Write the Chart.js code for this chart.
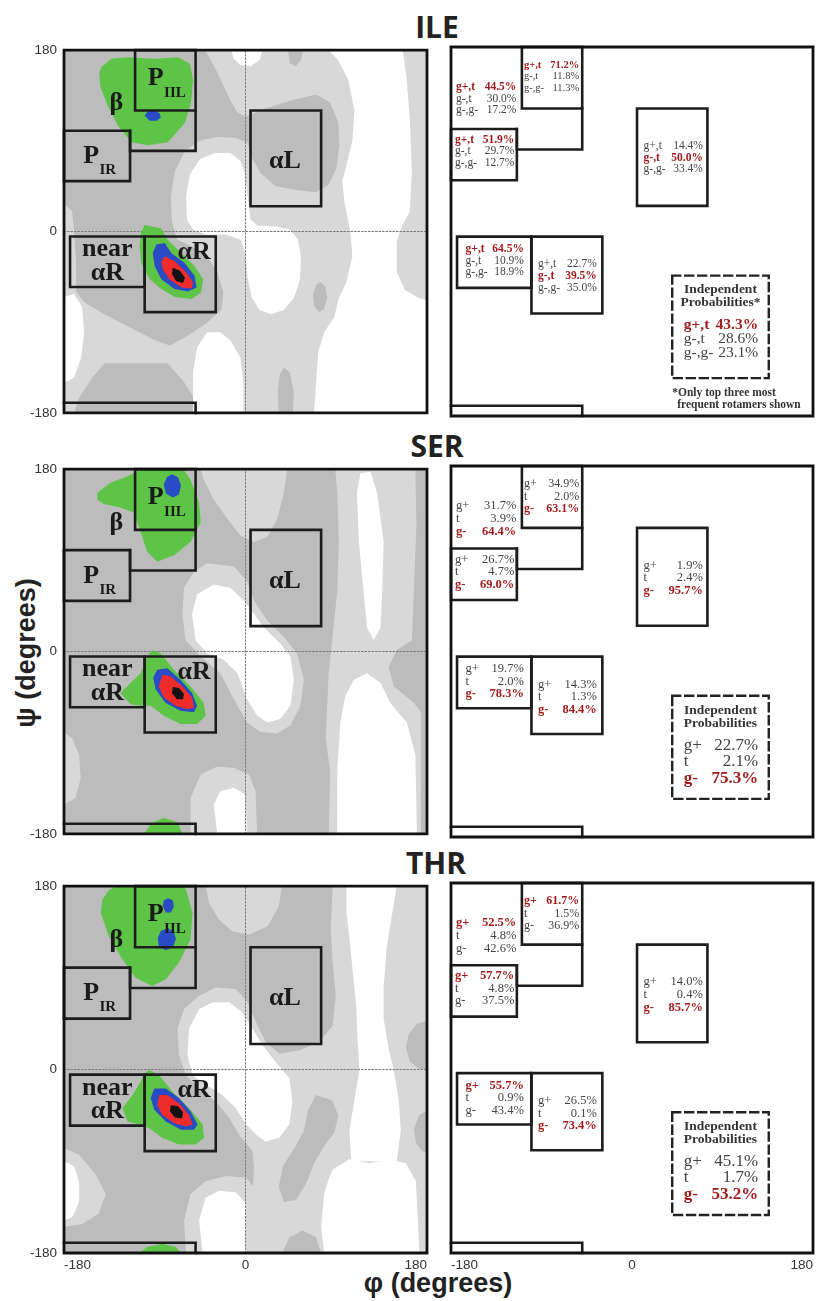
<!DOCTYPE html>
<html>
<head>
<meta charset="utf-8">
<script src="https://cdn.jsdelivr.net/npm/chart.js@4.4.1/dist/chart.umd.min.js"></script>
<style>
  html, body { margin: 0; padding: 0; background: #fff; }
  body { width: 817px; height: 1301px; position: relative; overflow: hidden; }
  .title { position: absolute; transform: translate(-50%, -50%); font-family: "Open Sans", sans-serif; font-weight: 700; font-size: 30px; color: #222; white-space: nowrap; }
  .axis-title { position: absolute; font-family: "Liberation Sans", Arial, sans-serif; font-weight: 700; font-size: 27px; color: #222; white-space: nowrap; }
  canvas { position: absolute; }
</style>
</head>
<body>
<div class="title" style="left:437px;top:26px">ILE</div>
<div class="title" style="left:437px;top:445px">SER</div>
<div class="title" style="left:436px;top:862px">THR</div>
<div class="axis-title" style="left:26px;top:653px;transform:translate(-50%,-50%) rotate(-90deg)">ψ (degrees)</div>
<div class="axis-title" style="left:438px;top:1283px;transform:translate(-50%,-50%)">φ (degrees)</div>

<canvas id="ileMap"></canvas>
<canvas id="ileRot"></canvas>
<canvas id="serMap"></canvas>
<canvas id="serRot"></canvas>
<canvas id="thrMap"></canvas>
<canvas id="thrRot"></canvas>

<script>
// ---------- axes ----------
const PHI_TICKS = [-180, 0, 180];
const PSI_TICKS = [-180, 0, 180];

// ---------- region boxes (phi, psi in degrees) ----------
const FULL_AREA     = [[-180,-180],[180,-180],[180,180],[-180,180],[-180,-180]];
const BOX_PIIL      = [[-109.5,180],[-49.5,180],[-49.5,120],[-109.5,120],[-109.5,180]];
const BOX_BETA      = [[-49.5,120],[-49.5,80],[-114.5,80],[-114.5,100]];
const BOX_PIR       = [[-180,100],[-114.5,100],[-114.5,50],[-180,50],[-180,100]];
const BOX_ALPHA_L   = [[5,120],[75,120],[75,25],[5,25],[5,120]];
const BOX_NEAR_AR   = [[-174,-5],[-100,-5],[-100,-55],[-174,-55],[-174,-5]];
const BOX_ALPHA_R   = [[-100,-5],[-29.5,-5],[-29.5,-80],[-100,-80],[-100,-5]];
const BOX_BETA_WRAP = [[-180,-170],[-49.5,-170],[-49.5,-180]];
const BOX_INDEP     = [[40,-43],[136,-43],[136,-143],[40,-143],[40,-43]];

// ---------- ILE density contours ----------
const ILE_MID_MAIN = [[-180,180],[-40,180],[-28,158],[-16,132],[-8,118],[0,114],[20,122],[45,130],[70,136],[84,128],[92,108],[93,85],[90,62],[82,46],[70,39],[52,41],[30,45],[15,58],[7,72],[2,88],[-10,93],[-28,94],[-46,90],[-60,80],[-70,60],[-74,35],[-73,10],[-68,-8],[-55,-14],[-40,-22],[-28,-40],[-22,-60],[-24,-78],[-40,-92],[-60,-105],[-75,-113],[-90,-108],[-115,-95],[-140,-82],[-160,-70],[-168,-60],[-168,-30],[-170,0],[-172,20],[-180,28]];
const ILE_MID_TOP = [[42,180],[57,180],[55,170],[50,164],[44,167]];
const ILE_MID_BOTTOM = [[-140,-131],[-77,-131],[-62,-148],[-48,-170],[-46,-180],[-170,-180],[-165,-165],[-152,-145]];
const ILE_MID_ELL1 = [[74,-50],[79,-54],[81,-65],[78,-77],[73,-80],[68,-74],[67,-62],[70,-53]];
const ILE_MID_ELL2 = [[38,-135],[44,-140],[48,-160],[47,-180],[33,-180],[32,-160],[34,-142]];
const ILE_WHITE_HOLE = [[-30,78],[-45,72],[-55,57],[-59,35],[-58,12],[-52,2],[-40,-3],[-20,-3],[-5,-8],[0,-22],[2,-45],[6,-65],[14,-78],[25,-82],[38,-78],[48,-66],[54,-48],[55,-25],[52,-8],[44,2],[30,5],[12,6],[5,12],[2,35],[0,55],[-5,70],[-15,78]];
const ILE_WHITE_TOP = [[-14,180],[17,180],[14,170],[5,164],[-5,165],[-12,172]];
const ILE_WHITE_RIGHT = [[82,180],[156,180],[160,150],[163,110],[165,60],[163,20],[155,5],[150,-10],[150,-40],[158,-58],[172,-66],[180,-68],[180,-180],[68,-180],[70,-150],[72,-120],[78,-100],[88,-85],[92,-68],[100,-50],[106,-25],[104,0],[98,30],[96,50],[100,65],[106,90],[108,120],[102,150],[92,170]];
const ILE_WHITE_BOTTOM = [[-38,-100],[-48,-115],[-52,-140],[-52,-180],[-2,-180],[-2,-150],[-5,-125],[-15,-108],[-25,-100]];
const ILE_WHITE_LEFT = [[-180,-65],[-170,-62],[-162,-75],[-160,-100],[-163,-125],[-170,-145],[-180,-150]];
const ILE_GREEN_BETA = [[-143,163],[-133,171.5],[-117,173],[-90,171.5],[-67,173],[-55,166.5],[-52,150],[-54,127.5],[-60,108],[-77,88.5],[-97,85.5],[-113,88.5],[-126.5,105],[-136.5,124.5],[-144,144],[-145,157]];
const ILE_BLUE_BETA = [[-100,115],[-97,119],[-90,120],[-85,117],[-84,113],[-88,110],[-95,110]];
const ILE_GREEN_AR = [[-100,6.5],[-83.5,3],[-77,-8.5],[-63.5,-21.5],[-50.5,-34.5],[-42,-47.5],[-44,-60.5],[-53.5,-67],[-70,-65],[-83.5,-57],[-95,-47.5],[-103.5,-31],[-105,-15],[-104,-2]];
const ILE_BLUE_AR = [[-88.5,-13],[-80,-11.5],[-73.5,-21.5],[-60.5,-31],[-50.5,-44],[-48.5,-55.5],[-57,-59.5],[-70.5,-57],[-83.5,-47.5],[-90,-34.5],[-92,-21.5]];
const ILE_RED_AR = [[-80,-24.5],[-70,-29.5],[-58.5,-41],[-52,-50.5],[-53.5,-56.5],[-63.5,-55.5],[-75.5,-47.5],[-82,-37.5],[-83.5,-29.5]];
const ILE_BLACK_AR = [[-72,-36],[-65,-39],[-60,-46],[-62,-51],[-69,-49],[-73,-42]];

// ---------- SER density contours ----------
const SER_LIGHT_RING = [[-38,87],[-11.5,84],[1.5,69.5],[8.5,50],[21.5,30.5],[38,14.5],[51,-2],[58,-28],[54.5,-53.5],[44.5,-73],[31.5,-81],[15,-79.5],[1.5,-70],[-11.5,-47],[-25,-21.5],[-44.5,-5],[-59.5,11],[-62.5,37],[-61,63],[-51,79]];
const SER_LIGHT_TOP = [[-44.5,180],[41.5,180],[38,156.5],[31.5,131],[21.5,113],[8.5,108],[-5,114.5],[-18,131],[-31.5,150],[-41.5,169.5]];
const SER_LIGHT_RIGHT = [[89,180],[168.5,180],[169.5,124],[167,59.5],[165,11],[150,1.5],[142,-15],[147,-34.5],[167,-50.5],[174,-60],[174,-180],[82.5,-180],[84,-118.5],[79.5,-86],[81,-53.5],[82.5,-21.5],[86,11],[91,59.5],[92.5,108],[91,156.5]];
const SER_LIGHT_BOTTOM = [[-54.5,-180],[-54.5,-144.5],[-44.5,-121.5],[-28,-113.5],[-11.5,-115],[3.5,-121.5],[10,-138],[11.5,-180]];
const SER_LIGHT_LEFT = [[-180,-79.5],[-171.5,-86],[-165,-102.5],[-163.5,-125],[-168.5,-144.5],[-180,-151]];
const SER_WHITE_HOLE = [[-31.5,66],[-15,63],[-1.5,50],[8.5,37],[18,24],[34.5,8],[44.5,-5],[48,-28],[44.5,-53.5],[34.5,-66.5],[21.5,-70],[11.5,-63.5],[1.5,-47],[-8,-21.5],[-21.5,-8.5],[-38,-2],[-49.5,11],[-53,37],[-48,56.5]];
const SER_WHITE_STREAK = [[114,176],[124,177.5],[130.5,156.5],[137,108],[135.5,59.5],[134,24],[127,11],[120.5,24],[117,59.5],[112.5,108],[110.5,156.5]];
const SER_WHITE_RIGHT = [[107.5,-28],[120.5,-21.5],[134,-31],[143.5,-50.5],[160,-70],[168.5,-102.5],[170,-180],[91,-180],[91,-118.5],[94,-70],[99,-44]];
const SER_WHITE_BOTTOM = [[-28,-180],[-31.5,-151],[-25,-138],[-11.5,-134.5],[0,-141],[1.5,-180]];
const SER_GREEN_BETA = [[-147,156.5],[-134,166.5],[-117,173],[-103,180],[-62,180],[-54.5,169.5],[-46,147],[-44.5,127.5],[-54.5,108],[-71,95],[-87.5,88.5],[-97.5,98.5],[-104,118],[-110.5,137],[-124,142],[-140.5,145.5],[-147,150]];
const SER_GREEN_WRAP = [[-100.5,-180],[-94,-170],[-81,-164],[-67.5,-168.5],[-62.5,-180]];
const SER_BLUE_BETA = [[-73,175],[-67,172],[-64,164],[-66,155],[-72,152],[-79,156],[-81,165],[-78,172]];
const SER_GREEN_AR = [[-92.5,1.5],[-84,-2],[-71,-18],[-54.5,-34.5],[-41.5,-50.5],[-39.5,-63.5],[-48,-71.5],[-64.5,-71.5],[-81,-63.5],[-94,-53.5],[-104,-53.5],[-114,-52],[-124,-41],[-114,-31],[-104,-21.5],[-97.5,-5]];
const SER_BLUE_AR = [[-87.5,-18],[-77.5,-16.5],[-64.5,-28],[-53,-41],[-48,-53.5],[-51,-60],[-64.5,-58.5],[-79.5,-50.5],[-89,-37.5],[-91.5,-26]];
const SER_RED_AR = [[-82.5,-23],[-74.5,-24.5],[-62.5,-34.5],[-53,-45.5],[-51,-55.5],[-58,-57],[-69.5,-53.5],[-81,-45.5],[-86,-34.5]];
const SER_BLACK_AR = [[-72,-35],[-66,-36],[-61,-42],[-62,-47],[-68,-47],[-73,-41]];

// ---------- THR density contours ----------
const THR_LIGHT_MAIN = [[-61,59.5],[-46,72.5],[-29.5,80.5],[-9.5,79],[2,66],[10.5,46.5],[20,27],[33.5,15.5],[53.5,19],[73,27],[86.5,43],[89.5,72.5],[86.5,105],[84.5,137],[86.5,180],[180,180],[180,-180],[7,-180],[7,-122],[8.5,-96.5],[7,-80],[-6.5,-64],[-16,-47.5],[-29.5,-31.5],[-46,-18.5],[-59,-5.5],[-66,14],[-67.5,40]];
const THR_LIGHT_TOP = [[-39.5,180],[36,180],[33,160],[22,140.5],[3.5,132.5],[-13,135.5],[-26,147],[-36,163]];
const THR_LIGHT_BOTTOM = [[-59,-180],[-61,-148],[-54.5,-122],[-39.5,-109.5],[-19.5,-104.5],[0.5,-106],[13.5,-122],[13.5,-180]];
const THR_LIGHT_LEFT = [[-180,-77],[-165,-83.5],[-148.5,-103],[-138.5,-122],[-145.5,-141.5],[-162,-151.5],[-180,-154.5]];
const THR_MID_DUMBBELL = [[70,-25],[86,-30],[92,-45],[88,-62],[78,-75],[68,-92],[60,-112],[50,-128],[38,-130],[33,-115],[37,-95],[48,-78],[58,-60],[62,-40]];
const THR_MID_BUMP = [[36.5,-180],[43.5,-164.5],[56.5,-158],[70,-164.5],[75,-180]];
const THR_MID_EDGE1 = [[180,48],[170,45],[162,35],[159,22],[163,8],[172,1],[180,0]];
const THR_MID_EDGE2 = [[180,-40],[172,-45],[167,-58],[169,-72],[175,-80],[180,-82]];
const THR_WHITE_HOLE = [[-46,59.5],[-32.5,66],[-16,66],[-3,56],[7,40],[17,23.5],[30,7.5],[43.5,-8.5],[46.5,-31.5],[43.5,-54],[33.5,-67],[20,-70.5],[10.5,-64],[0.5,-54],[-9.5,-38],[-23,-25],[-39.5,-15],[-52.5,-5.5],[-57.5,14],[-56,40]];
const THR_WHITE_STREAK = [[100,180],[150,180],[145,150],[140,120],[137,80],[137,50],[142,20],[147,0],[152,-30],[154,-60],[150,-90],[105,-90],[103,-60],[108,-30],[113,0],[111,30],[110,60],[106,100],[103,130],[100,155]];
const THR_WHITE_RIGHT = [[86.5,-98],[103,-88],[123,-92],[142.5,-88],[159,-92],[169,-109.5],[172.5,-180],[78,-180],[75,-154.5],[78,-122],[83,-106]];
const THR_WHITE_BOTTOM = [[-42.5,-180],[-46,-148],[-39.5,-125.5],[-26,-119],[-9.5,-120.5],[0.5,-132],[0.5,-180]];
const THR_WHITE_LEFT = [[-180,-90],[-170,-95],[-165,-110],[-165,-130],[-172,-145],[-180,-148]];
const THR_GREEN_BETA = [[-135.5,176],[-128,180],[-62,180],[-59,177],[-52.5,153.5],[-54.5,127.5],[-66,105],[-79,88.5],[-92.5,82],[-109,90],[-122,108],[-135.5,130.5],[-143.5,153.5],[-142,166.5]];
const THR_GREEN_WRAP = [[-105.5,-180],[-97.5,-174],[-82.5,-171],[-69,-174],[-64,-180]];
const THR_BLUE_BETA_1 = [[-77,168],[-72,166],[-71,160],[-74,154],[-79,154],[-82,160],[-81,166]];
const THR_BLUE_BETA_2 = [[-77,139],[-71,135],[-69,128],[-72,120],[-79,117],[-86,121],[-87,129],[-84,136]];
const THR_GREEN_AR = [[-95.5,-0.5],[-85.5,-5.5],[-72.5,-21.5],[-56,-38],[-42.5,-54],[-41,-67],[-49.5,-73.5],[-66,-73.5],[-82.5,-67],[-95.5,-57.5],[-105.5,-54],[-117,-51],[-122,-38],[-112,-25],[-104,-12],[-100.5,-4]];
const THR_BLUE_AR = [[-90.5,-18.5],[-79,-18.5],[-66,-28],[-54.5,-41],[-47.5,-54],[-51,-59],[-64,-59],[-79,-51],[-90.5,-39.5],[-94,-28]];
const THR_RED_AR = [[-85.5,-25],[-77.5,-25],[-66,-33],[-56,-44.5],[-52.5,-54],[-59,-56],[-71,-52.5],[-82.5,-44.5],[-87.5,-34.5]];
const THR_BLACK_AR = [[-74,-35],[-67,-36],[-62,-42],[-63,-48],[-70,-47],[-75,-41]];

// ---------- rotamer populations (%) per region: beta, PIIL, PIR, alphaL, near alphaR, alphaR ----------
const ILE_ROTAMERS = ['g+,t', 'g-,t', 'g-,g-'];
const ILE_BETA = [44.5, 30.0, 17.2];
const ILE_PIIL = [71.2, 11.8, 11.3];
const ILE_PIR = [51.9, 29.7, 12.7];
const ILE_ALPHA_L = [14.4, 50.0, 33.4];
const ILE_NEAR_AR = [64.5, 10.9, 18.9];
const ILE_ALPHA_R = [22.7, 39.5, 35.0];
const ILE_INDEPENDENT = [43.3, 28.6, 23.1];

const SER_ROTAMERS = ['g+', 't', 'g-'];
const SER_BETA = [31.7, 3.9, 64.4];
const SER_PIIL = [34.9, 2.0, 63.1];
const SER_PIR = [26.7, 4.7, 69.0];
const SER_ALPHA_L = [1.9, 2.4, 95.7];
const SER_NEAR_AR = [19.7, 2.0, 78.3];
const SER_ALPHA_R = [14.3, 1.3, 84.4];
const SER_INDEPENDENT = [22.7, 2.1, 75.3];

const THR_ROTAMERS = ['g+', 't', 'g-'];
const THR_BETA = [52.5, 4.8, 42.6];
const THR_PIIL = [61.7, 1.5, 36.9];
const THR_PIR = [57.7, 4.8, 37.5];
const THR_ALPHA_L = [14.0, 0.4, 85.7];
const THR_NEAR_AR = [55.7, 0.9, 43.4];
const THR_ALPHA_R = [26.5, 0.1, 73.4];
const THR_INDEPENDENT = [45.1, 1.7, 53.2];

// ---------- styling ----------
const C_WHITE = '#ffffff', C_LIGHT = '#d8d8d8', C_MID = '#bcbcbc';
const C_GREEN = '#5ec447', C_BLUE = '#2a4bc6', C_RED = '#f02b2b', C_BLACK = '#121212';
const C_BOX = '#1c1c1c', C_TEXT = '#444444', C_HILITE = '#a11c1c';
const SERIF = '"Liberation Serif", "Times New Roman", serif';
const SANS = '"Liberation Sans", Arial, sans-serif';

// Where each region's three-line population block sits: [phi left, phi right, psi of first line]
const TEXT_ANCHORS = [[-175,-115,141],[-107.5,-52.5,162.5],[-176,-117,89.5],[11.5,70.5,83.5],[-165.5,-107.5,-17],[-93.5,-35,-32]];

const ROWS = [
  { top: 47, bottom: 416 },
  { top: 465.5, bottom: 836 },
  { top: 883, bottom: 1253 }
];
const MAP_LEFT = 64, MAP_RIGHT = 427;
const ROT_LEFT = 451, ROT_RIGHT = 813;

function pts(list) { return list.map(([x, y]) => ({ x, y })); }

function polygon(list, color) {
  return { data: pts(list), showLine: true, fill: 'shape', backgroundColor: color,
           borderColor: color, borderWidth: 0, pointRadius: 0, pointHoverRadius: 0, tension: 0 };
}
function outline(list, color, width, dash) {
  return { data: pts(list), showLine: true, fill: false, borderColor: color, borderWidth: width,
           borderDash: dash || [], borderCapStyle: 'square', borderJoinStyle: 'miter',
           pointRadius: 0, pointHoverRadius: 0, tension: 0, clip: false };
}
function regionOutlines(ds) {
  [BOX_PIIL, BOX_BETA, BOX_PIR, BOX_ALPHA_L, BOX_NEAR_AR, BOX_ALPHA_R, BOX_BETA_WRAP]
    .forEach(b => ds.push(outline(b, C_BOX, 2.6)));
}

// Draws text at (phi, psi) positions through the chart scales
function textPlugin(items) {
  return {
    id: 'panelText',
    afterDatasetsDraw(chart) {
      const { ctx } = chart;
      const xs = chart.scales.x, ys = chart.scales.y;
      ctx.save();
      for (const t of items) {
        ctx.font = t.font;
        ctx.fillStyle = t.color;
        ctx.textAlign = t.align || 'center';
        ctx.textBaseline = 'middle';
        ctx.fillText(t.text, xs.getPixelForValue(t.x), ys.getPixelForValue(t.y) + (t.dy || 0));
      }
      ctx.restore();
    }
  };
}

function mapLabels() {
  const big = `bold 26px ${SERIF}`, sub = `bold 15px ${SERIF}`, c = '#1a1a1a';
  return [
    { text: 'β', x: -128, y: 127, font: big, color: c },
    { text: 'P', x: -89, y: 152, font: big, color: c },
    { text: 'IIL', x: -70, y: 137.5, font: sub, color: c },
    { text: 'P', x: -153, y: 74.5, font: big, color: c },
    { text: 'IR', x: -136.5, y: 61, font: sub, color: c },
    { text: 'αL', x: 39, y: 69.5, font: big, color: c },
    { text: 'near', x: -137, y: -18, font: big, color: c },
    { text: 'αR', x: -137, y: -41, font: big, color: c },
    { text: 'αR', x: -51, y: -20.5, font: big, color: c }
  ];
}

function rotamerLabels(names, regions, indep, cfg) {
  const items = [];
  regions.forEach((vals, r) => {
    const [xl, xr, y0] = TEXT_ANCHORS[r];
    const top = Math.max(...vals);
    const size = r === 1 ? cfg.piilSize : cfg.size;
    vals.forEach((v, i) => {
      const hi = v === top;
      const font = `${hi ? 'bold ' : ''}${size}px ${SERIF}`;
      const color = hi ? C_HILITE : C_TEXT;
      items.push({ text: names[i], x: xl, y: y0, dy: i * cfg.step, font, color, align: 'left' });
      items.push({ text: v.toFixed(1) + '%', x: xr, y: y0, dy: i * cfg.step, font, color, align: 'right' });
    });
  });
  const hdr = `bold 13.5px ${SERIF}`;
  items.push({ text: 'Independent', x: 88, y: -57, font: hdr, color: '#333' });
  items.push({ text: cfg.footnote ? 'Probabilities*' : 'Probabilities', x: 88, y: -69.5, font: hdr, color: '#333' });
  const top = Math.max(...indep);
  indep.forEach((v, i) => {
    const hi = v === top;
    const font = `${hi ? 'bold ' : ''}${cfg.indepSize}px ${SERIF}`;
    const color = hi ? C_HILITE : C_TEXT;
    items.push({ text: names[i], x: 51.5, y: -91, dy: i * cfg.indepStep, font, color, align: 'left' });
    items.push({ text: v.toFixed(1) + '%', x: 125.5, y: -91, dy: i * cfg.indepStep, font, color, align: 'right' });
  });
  if (cfg.footnote) {
    const f = `bold 11.5px ${SERIF}`;
    items.push({ text: '*Only top three most', x: 40, y: -158, font: f, color: '#333', align: 'left' });
    items.push({ text: 'frequent rotamers shown', x: 45, y: -169.5, font: f, color: '#333', align: 'left' });
  }
  return items;
}

function scalesFor(showX, showY, yWidth, xHeight) {
  const tickFont = { family: SANS, size: 13.5 };
  return {
    x: { type: 'linear', min: -180, max: 180,
         afterBuildTicks: s => { s.ticks = PHI_TICKS.map(v => ({ value: v })); },
         afterFit: s => { s.height = xHeight; },
         grid: { display: false, drawTicks: false }, border: { display: false },
         ticks: { display: showX, align: 'inner', padding: 4, font: tickFont, color: '#333', maxRotation: 0, autoSkip: false } },
    y: { type: 'linear', min: -180, max: 180,
         afterBuildTicks: s => { s.ticks = PSI_TICKS.map(v => ({ value: v })); },
         afterFit: s => { s.width = yWidth; },
         grid: { display: false, drawTicks: false }, border: { display: false },
         ticks: { display: showY, align: 'inner', padding: 7, font: tickFont, color: '#333', autoSkip: false } }
  };
}

function build(id, left, right, row, isBottom, showY, datasets, items) {
  const pad = 12;
  const xh = isBottom ? 30 : 0;
  const canvasLeft = left - (showY ? 64 : 13);
  const width = Math.min(817 - canvasLeft, right - canvasLeft + 9);
  const height = Math.round(row.bottom - row.top) + pad + (isBottom ? xh + 4 : pad);
  const cv = document.getElementById(id);
  cv.width = width; cv.height = height;
  cv.style.left = canvasLeft + 'px';
  cv.style.top = (row.top - pad) + 'px';
  datasets.forEach((d, i) => { d.order = datasets.length - i; });
  new Chart(cv, {
    type: 'scatter',
    data: { datasets },
    options: {
      responsive: false, animation: false, devicePixelRatio: 1, events: [],
      layout: { padding: { left: 0, top: pad, right: width - (right - canvasLeft), bottom: isBottom ? 4 : pad } },
      scales: scalesFor(isBottom, showY, left - canvasLeft, xh),
      plugins: { legend: { display: false }, tooltip: { enabled: false } }
    },
    plugins: [textPlugin(items)]
  });
}

function mapChart(id, row, isBottom, layers) {
  const ds = [];
  layers.forEach(([color, shapes]) => {
    shapes.forEach(s => ds.push(polygon(s, color)));
    if (color === C_WHITE) {
      ds.push(outline([[0,-180],[0,180]], '#7a7a7a', 1, [1.5, 2]));
      ds.push(outline([[-180,0],[180,0]], '#7a7a7a', 1, [1.5, 2]));
    }
  });
  regionOutlines(ds);
  ds.push(outline(FULL_AREA, '#111', 2.8));
  build(id, MAP_LEFT, MAP_RIGHT, row, isBottom, true, ds, mapLabels());
}

function rotChart(id, row, isBottom, items) {
  const ds = [];
  regionOutlines(ds);
  ds.push(outline(BOX_INDEP, '#222', 2.4, [8, 5]));
  ds.push(outline(FULL_AREA, '#111', 2.8));
  build(id, ROT_LEFT, ROT_RIGHT, row, isBottom, false, ds, items);
}

const ILE_LAYERS = [
  [C_LIGHT, [FULL_AREA]],
  [C_MID, [ILE_MID_MAIN, ILE_MID_TOP, ILE_MID_BOTTOM, ILE_MID_ELL1, ILE_MID_ELL2]],
  [C_WHITE, [ILE_WHITE_HOLE, ILE_WHITE_TOP, ILE_WHITE_RIGHT, ILE_WHITE_BOTTOM, ILE_WHITE_LEFT]],
  [C_GREEN, [ILE_GREEN_BETA, ILE_GREEN_AR]],
  [C_BLUE, [ILE_BLUE_BETA, ILE_BLUE_AR]],
  [C_RED, [ILE_RED_AR]],
  [C_BLACK, [ILE_BLACK_AR]]
];
const SER_LAYERS = [
  [C_MID, [FULL_AREA]],
  [C_LIGHT, [SER_LIGHT_RING, SER_LIGHT_TOP, SER_LIGHT_RIGHT, SER_LIGHT_BOTTOM, SER_LIGHT_LEFT]],
  [C_WHITE, [SER_WHITE_HOLE, SER_WHITE_STREAK, SER_WHITE_RIGHT, SER_WHITE_BOTTOM]],
  [C_GREEN, [SER_GREEN_BETA, SER_GREEN_WRAP, SER_GREEN_AR]],
  [C_BLUE, [SER_BLUE_BETA, SER_BLUE_AR]],
  [C_RED, [SER_RED_AR]],
  [C_BLACK, [SER_BLACK_AR]]
];
const THR_LAYERS = [
  [C_MID, [FULL_AREA]],
  [C_LIGHT, [THR_LIGHT_MAIN, THR_LIGHT_TOP, THR_LIGHT_BOTTOM, THR_LIGHT_LEFT]],
  [C_MID, [THR_MID_DUMBBELL, THR_MID_BUMP, THR_MID_EDGE1, THR_MID_EDGE2]],
  [C_WHITE, [THR_WHITE_HOLE, THR_WHITE_STREAK, THR_WHITE_RIGHT, THR_WHITE_BOTTOM, THR_WHITE_LEFT]],
  [C_GREEN, [THR_GREEN_BETA, THR_GREEN_WRAP, THR_GREEN_AR]],
  [C_BLUE, [THR_BLUE_BETA_1, THR_BLUE_BETA_2, THR_BLUE_AR]],
  [C_RED, [THR_RED_AR]],
  [C_BLACK, [THR_BLACK_AR]]
];

mapChart('ileMap', ROWS[0], false, ILE_LAYERS);
mapChart('serMap', ROWS[1], false, SER_LAYERS);
mapChart('thrMap', ROWS[2], true, THR_LAYERS);

rotChart('ileRot', ROWS[0], false, rotamerLabels(ILE_ROTAMERS,
  [ILE_BETA, ILE_PIIL, ILE_PIR, ILE_ALPHA_L, ILE_NEAR_AR, ILE_ALPHA_R], ILE_INDEPENDENT,
  { size: 11.5, piilSize: 10.5, step: 11.7, indepSize: 15.5, indepStep: 14, footnote: true }));
rotChart('serRot', ROWS[1], false, rotamerLabels(SER_ROTAMERS,
  [SER_BETA, SER_PIIL, SER_PIR, SER_ALPHA_L, SER_NEAR_AR, SER_ALPHA_R], SER_INDEPENDENT,
  { size: 12.5, piilSize: 12, step: 12.6, indepSize: 17, indepStep: 16.5, footnote: false }));
rotChart('thrRot', ROWS[2], true, rotamerLabels(THR_ROTAMERS,
  [THR_BETA, THR_PIIL, THR_PIR, THR_ALPHA_L, THR_NEAR_AR, THR_ALPHA_R], THR_INDEPENDENT,
  { size: 12.5, piilSize: 12, step: 12.6, indepSize: 17, indepStep: 16.5, footnote: false }));
</script>
</body>
</html>
